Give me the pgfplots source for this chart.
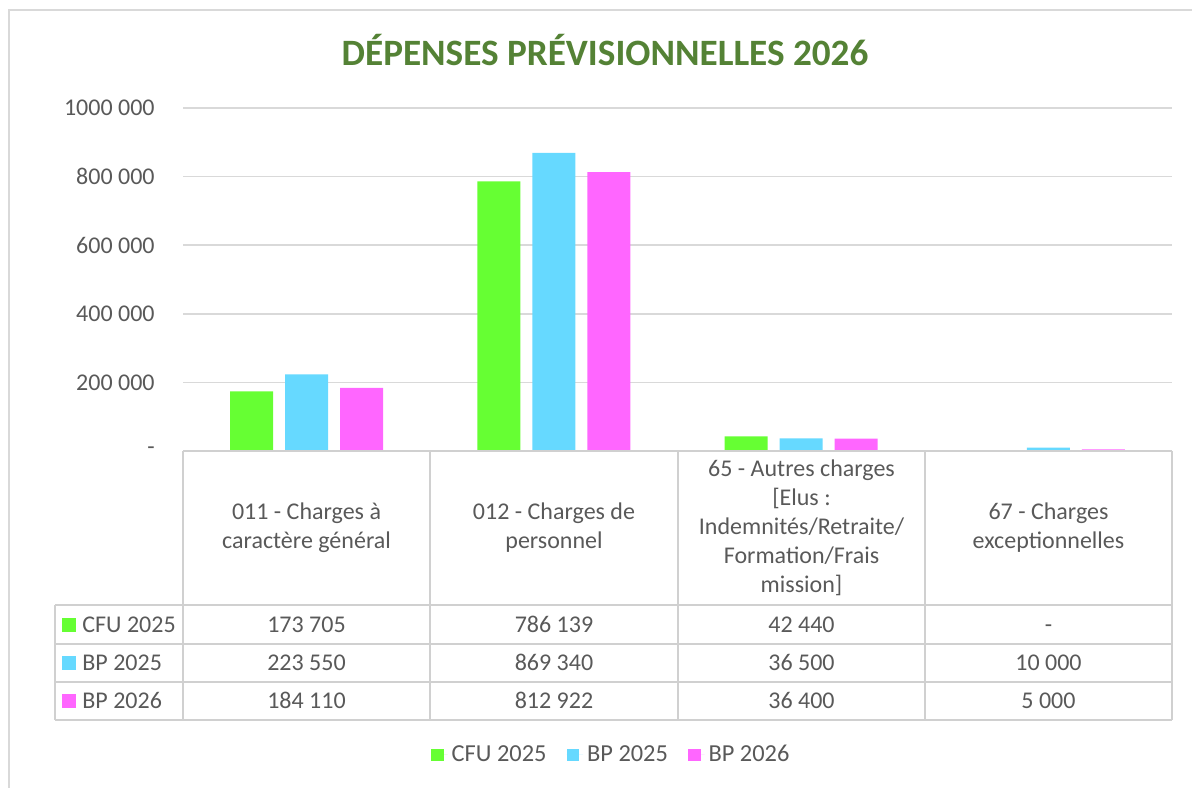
\documentclass[border=0pt]{standalone}
\usepackage{pgfplots}
\pgfplotsset{compat=1.18}
\usepackage{fontspec}
\setmainfont{Carlito}
\definecolor{cfu}{HTML}{66FF33}
\definecolor{bp25}{HTML}{66D9FF}
\definecolor{bp26}{HTML}{FF66FF}
\definecolor{titlegreen}{HTML}{548235}
\definecolor{txt}{HTML}{595959}
\definecolor{gridc}{HTML}{D9D9D9}
\definecolor{tabc}{HTML}{D0D0D0}
\pgfplotstableread{
x cfu bp25 bp26
0 173705 223550 184110
1 786139 869340 812922
2 42440 36500 36400
3 0 10000 5000
}\data
\begin{document}
\begin{tikzpicture}[x=0.5pt,y=-0.5pt]
\useasboundingbox (0,0) rectangle (1192,787);
\draw[gridc,line width=1pt] (9,800) -- (9,10) -- (1200,10);
\node[anchor=base,inner sep=0pt,font=\fontsize{18.6}{22}\selectfont\bfseries,text=titlegreen] at (605,65) {DÉPENSES PRÉVISIONNELLES 2026};
\begin{axis}[
  at={(91.5pt,-225.5pt)}, anchor=south west,
  scale only axis, width=494.5pt, height=171.5pt,
  xmin=-0.5, xmax=3.5, ymin=0, ymax=1000000,
  axis line style={draw=none},
  xtick=\empty,
  scaled y ticks=false,
  ytick={0,200000,400000,600000,800000,1000000},
  yticklabels={-\hspace{11pt},200 000,400 000,600 000,800 000,1000 000},
  major tick length=0pt,
  ymajorgrids, grid style={gridc,line width=0.75pt},
  yticklabel style={font=\fontsize{12}{14}\selectfont,text=txt,anchor=east,inner sep=0pt,xshift=-14pt},
  ybar=6pt, bar width=21.5pt,
  legend style={at={(0.434,-0.886)},anchor=center,draw=none,fill=none,
    font=\fontsize{12.2}{15}\selectfont,text=txt,
    /tikz/every even column/.append style={column sep=8pt}},
  legend columns=3,
  legend image code/.code={\path (0pt,0pt) -- (8.3pt,0pt);\fill[#1,draw=none] (0pt,-3.2pt) rectangle (6.3pt,3.2pt);},
]
\addplot[fill=cfu,draw=none] table[x=x,y=cfu] {\data};
\addplot[fill=bp25,draw=none] table[x=x,y=bp25] {\data};
\addplot[fill=bp26,draw=none] table[x=x,y=bp26] {\data};
\legend{CFU 2025,BP 2025,BP 2026}
\end{axis}
% data table
\begin{scope}[tabc,line width=1pt]
\draw (183,451) -- (1172,451);
\foreach \yy in {605,644,682,720} \draw (55,\yy) -- (1172,\yy);
\draw (55,605) -- (55,720);
\foreach \xx in {183,430,678,925,1172} \draw (\xx,451) -- (\xx,720);
\end{scope}
\begin{scope}[every node/.style={text=txt,font=\fontsize{12}{14.5}\selectfont,align=center,inner sep=0pt}]
\node at (306.5,528) {011 - Charges à\\caractère général};
\node at (554,528) {012 - Charges de\\personnel};
\node at (801.5,528) {65 - Autres charges\\{[}Elus :\\Indemnités/Retraite/\\Formation/Frais\\mission{]}};
\node at (1048.5,528) {67 - Charges\\exceptionnelles};
\fill[cfu] (62,618) rectangle (76,632);
\fill[bp25] (62,656) rectangle (76,670);
\fill[bp26] (62,694) rectangle (76,708);
\node[anchor=base west] at (82,632) {CFU 2025};
\node[anchor=base west] at (82,670.5) {BP 2025};
\node[anchor=base west] at (82,708.5) {BP 2026};
\node[anchor=base] at (306.5,632) {173 705};
\node[anchor=base] at (554,632) {786 139};
\node[anchor=base] at (801.5,632) {42 440};
\node[anchor=base] at (1048.5,632) {-};
\node[anchor=base] at (306.5,670.5) {223 550};
\node[anchor=base] at (554,670.5) {869 340};
\node[anchor=base] at (801.5,670.5) {36 500};
\node[anchor=base] at (1048.5,670.5) {10 000};
\node[anchor=base] at (306.5,708.5) {184 110};
\node[anchor=base] at (554,708.5) {812 922};
\node[anchor=base] at (801.5,708.5) {36 400};
\node[anchor=base] at (1048.5,708.5) {5 000};
\end{scope}
\end{tikzpicture}
\end{document}
